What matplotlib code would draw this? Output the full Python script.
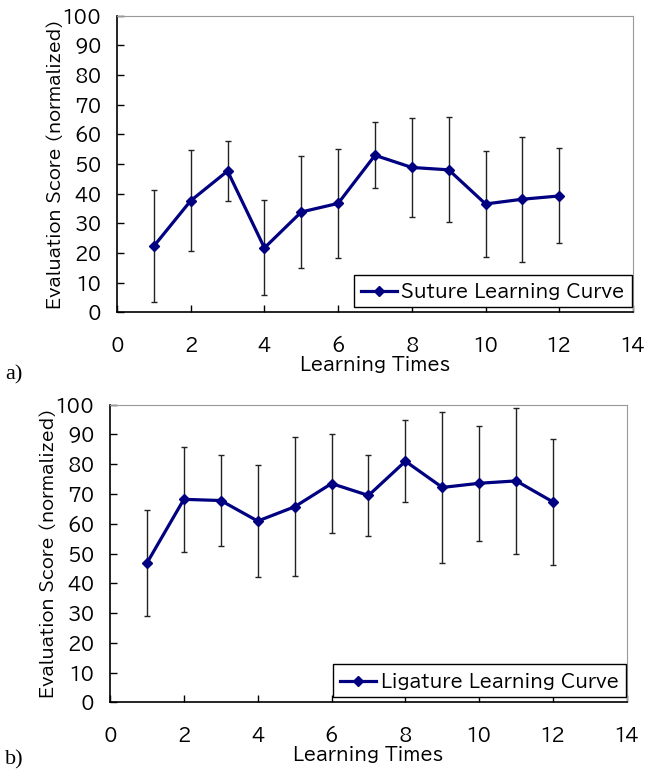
import matplotlib.pyplot as plt
import numpy as np

# learning sessions and evaluation scores (mean, sd)
times = [1, 2, 3, 4, 5, 6, 7, 8, 9, 10, 11, 12]
suture_mean = [22.3, 37.6, 47.6, 21.7, 33.8, 36.7, 52.9, 48.8, 48.0, 36.5, 38.1, 39.2]
suture_sd = [18.8, 17.0, 10.1, 16.0, 19.0, 18.4, 11.1, 16.8, 17.7, 18.0, 21.0, 16.0]
ligature_mean = [46.8, 68.2, 67.8, 60.9, 65.7, 73.5, 69.5, 81.0, 72.2, 73.6, 74.4, 67.3]
ligature_sd = [17.8, 17.7, 15.2, 18.8, 23.4, 16.6, 13.7, 13.7, 25.3, 19.4, 24.5, 21.3]

xticks = [0, 2, 4, 6, 8, 10, 12, 14]
yticks = list(range(0, 101, 10))

plt.rcParams['font.family'] = ['BIZ UDPGothic', 'DejaVu Sans']

fig = plt.figure(figsize=(6.45, 7.71), dpi=100)
W, H = 645, 771


def panel(rect, mean, sd, name, tag, tag_y):
    l, t, r, b = rect
    ax = fig.add_axes([l / W, 1 - b / H, (r - l) / W, (b - t) / H])
    ax.errorbar(times, mean, yerr=sd, fmt='none', ecolor='#222222',
                elinewidth=1, capsize=2, capthick=1, zorder=2)
    ax.plot(times, mean, '-D', color='#000080', lw=2.3, ms=5.5,
            label=name, zorder=3)
    ax.set_xlim(0, 14)
    ax.set_ylim(0, 100)
    ax.set_xticks(xticks)
    ax.set_yticks(yticks)
    ax.tick_params(direction='in', length=5, width=1, labelsize=13)
    ax.tick_params(axis='x', pad=17)
    ax.tick_params(axis='y', pad=11)
    for s in ['top', 'right']:
        ax.spines[s].set_color('#999999')
        ax.spines[s].set_linewidth(0.8)
    for s in ['left', 'bottom']:
        ax.spines[s].set_linewidth(1.2)
    ax.set_xlabel('Learning Times', fontsize=13, labelpad=1)
    ax.set_ylabel('Evaluation Score (normalized)', fontsize=12.5, labelpad=0)
    leg = ax.legend(loc='lower right', bbox_to_anchor=(0.998, 0.018),
                    borderaxespad=0, fancybox=False, edgecolor='black',
                    fontsize=13, handlelength=2.0, borderpad=0.4,
                    handletextpad=0.25, framealpha=1, markerscale=0.9)
    leg.get_frame().set_linewidth(1)
    fig.text(5 / W, 1 - tag_y / H, tag, family='Liberation Serif',
             fontsize=16, va='center', ha='left')
    return ax


panel((117, 15.5, 633, 312.3), suture_mean, suture_sd,
      'Suture Learning Curve', 'a)', 375)
panel((110, 404.7, 627, 702.3), ligature_mean, ligature_sd,
      'Ligature Learning Curve', 'b)', 760)

fig.savefig('out.png', dpi=100)
